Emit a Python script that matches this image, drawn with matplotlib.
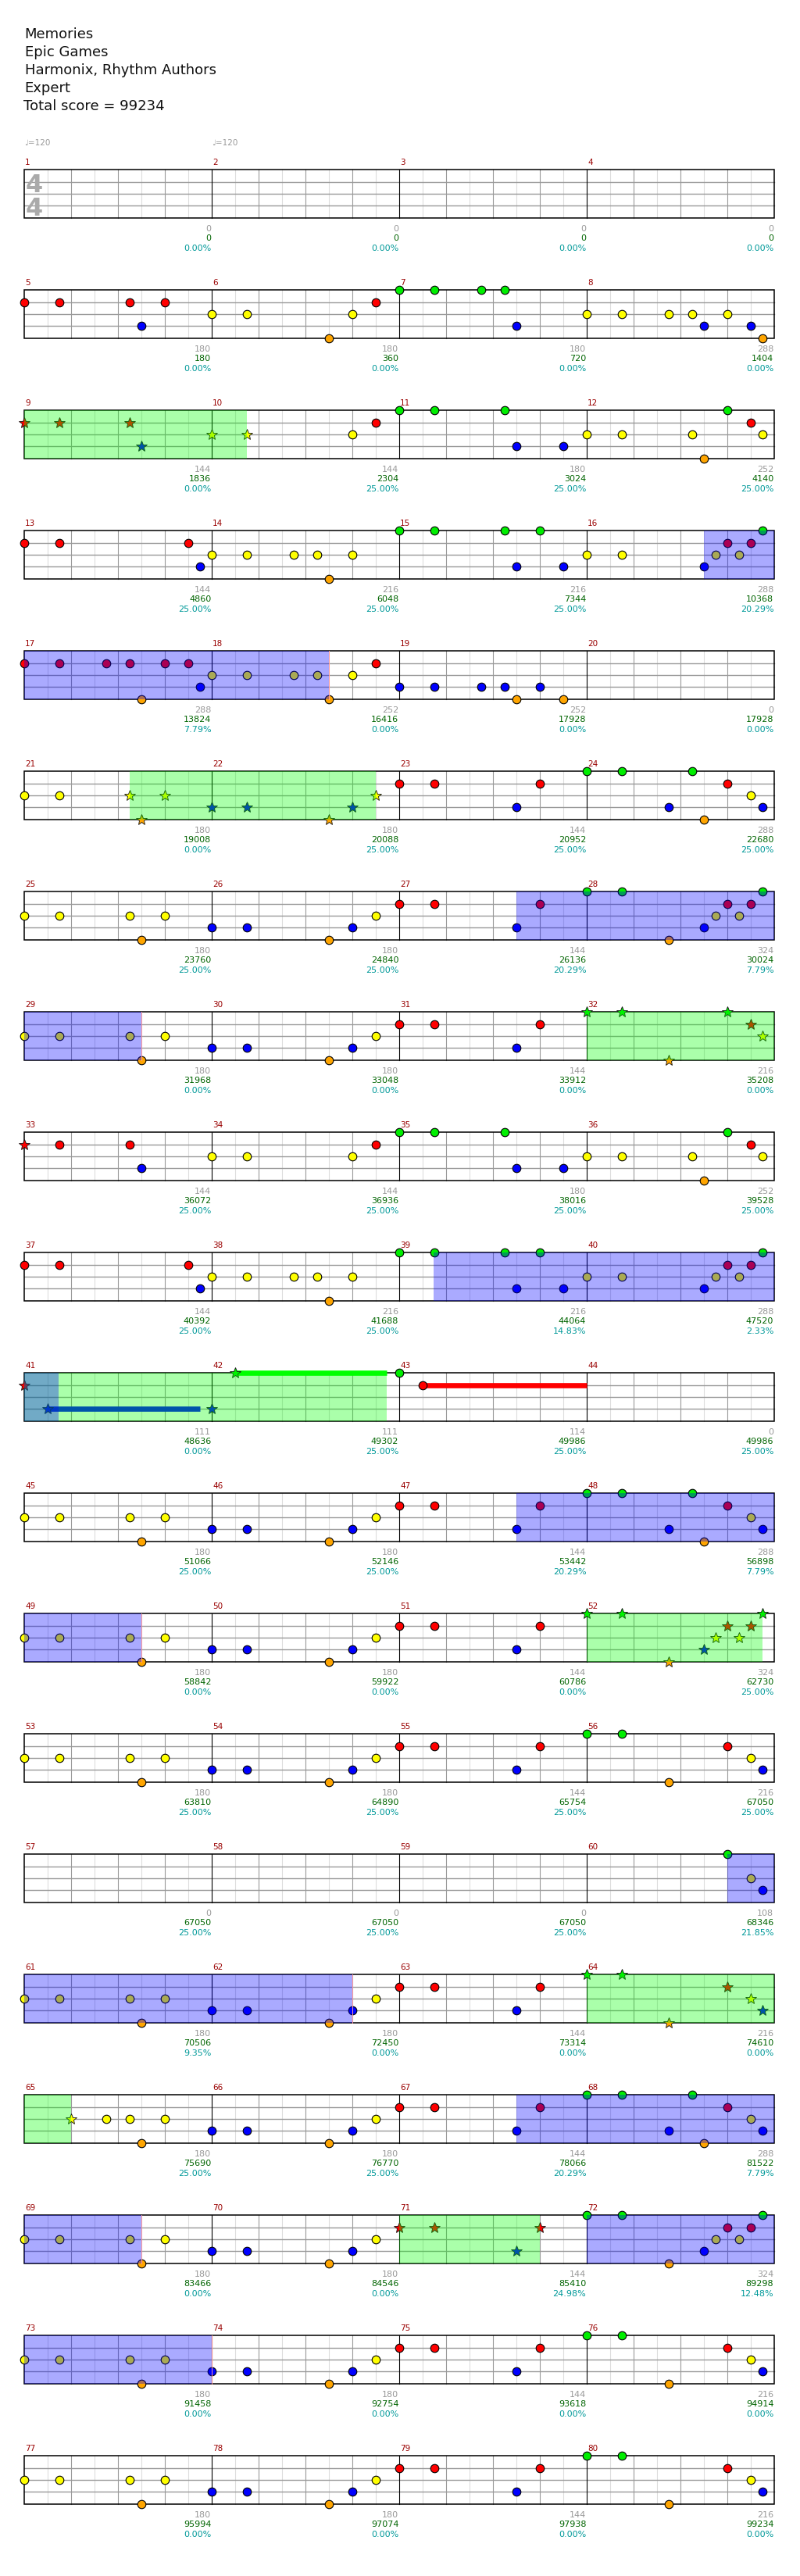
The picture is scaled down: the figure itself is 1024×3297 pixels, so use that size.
import matplotlib
matplotlib.use("Agg")
import matplotlib.pyplot as plt
from matplotlib.patches import Rectangle

# song info
header = ["Memories", "Epic Games", "Harmonix, Rhythm Authors", "Expert", "Total score = 99234"]
tempo_marks = [(1, "\u2669=120"), (2, "\u2669=120")]

# notes per measure: lane letter + position in 16ths, '*' = star power note
notes = [
    (5, "R0 R3 R9 B10 R12"), (6, "Y0 Y3 O10 Y12 R14"), (7, "G0 G3 G7 G9 B10"),
    (8, "Y0 Y3 Y7 Y9 B10 Y12 B14 O15"),
    (9, "R0* R3* R9* B10*"), (10, "Y0* Y3* Y12 R14"), (11, "G0 G3 G9 B10 B14"),
    (12, "Y0 Y3 Y9 O10 G12 R14 Y15"),
    (13, "R0 R3 R14 B15"), (14, "Y0 Y3 Y7 Y9 O10 Y12"), (15, "G0 G3 G9 B10 G12 B14"),
    (16, "Y0 Y3 B10 Y11 R12 Y13 R14 G15"),
    (17, "R0 R3 R7 R9 O10 R12 R14 B15"), (18, "Y0 Y3 Y7 Y9 O10 Y12 R14"),
    (19, "B0 B3 B7 B9 O10 B12 O14"),
    (21, "Y0 Y3 Y9* O10* Y12*"), (22, "B0* B3* O10* B12* Y14*"), (23, "R0 R3 B10 R12"),
    (24, "G0 G3 B7 G9 O10 R12 Y14 B15"),
    (25, "Y0 Y3 Y9 O10 Y12"), (26, "B0 B3 O10 B12 Y14"), (27, "R0 R3 B10 R12"),
    (28, "G0 G3 O7 B10 Y11 R12 Y13 R14 G15"),
    (29, "Y0 Y3 Y9 O10 Y12"), (30, "B0 B3 O10 B12 Y14"), (31, "R0 R3 B10 R12"),
    (32, "G0* G3* O7* G12* R14* Y15*"),
    (33, "R0* R3 R9 B10"), (34, "Y0 Y3 Y12 R14"), (35, "G0 G3 G9 B10 B14"),
    (36, "Y0 Y3 Y9 O10 G12 R14 Y15"),
    (37, "R0 R3 R14 B15"), (38, "Y0 Y3 Y7 Y9 O10 Y12"), (39, "G0 G3 G9 B10 G12 B14"),
    (40, "Y0 Y3 B10 Y11 R12 Y13 R14 G15"),
    (41, "R0* B2*"), (42, "B0* G2*"), (43, "G0 R2"),
    (45, "Y0 Y3 Y9 O10 Y12"), (46, "B0 B3 O10 B12 Y14"), (47, "R0 R3 B10 R12"),
    (48, "G0 G3 B7 G9 O10 R12 Y14 B15"),
    (49, "Y0 Y3 Y9 O10 Y12"), (50, "B0 B3 O10 B12 Y14"), (51, "R0 R3 B10 R12"),
    (52, "G0* G3* O7* B10* Y11* R12* Y13* R14* G15*"),
    (53, "Y0 Y3 Y9 O10 Y12"), (54, "B0 B3 O10 B12 Y14"), (55, "R0 R3 B10 R12"),
    (56, "G0 G3 O7 R12 Y14 B15"),
    (60, "G12 Y14 B15"),
    (61, "Y0 Y3 Y9 O10 Y12"), (62, "B0 B3 O10 B12 Y14"), (63, "R0 R3 B10 R12"),
    (64, "G0* G3* O7* R12* Y14* B15*"),
    (65, "Y4* Y7 Y9 O10 Y12"), (66, "B0 B3 O10 B12 Y14"), (67, "R0 R3 B10 R12"),
    (68, "G0 G3 B7 G9 O10 R12 Y14 B15"),
    (69, "Y0 Y3 Y9 O10 Y12"), (70, "B0 B3 O10 B12 Y14"), (71, "R0* R3* B10* R12*"),
    (72, "G0 G3 O7 B10 Y11 R12 Y13 R14 G15"),
    (73, "Y0 Y3 Y9 O10 Y12"), (74, "B0 B3 O10 B12 Y14"), (75, "R0 R3 B10 R12"),
    (76, "G0 G3 O7 R12 Y14 B15"),
    (77, "Y0 Y3 Y9 O10 Y12"), (78, "B0 B3 O10 B12 Y14"), (79, "R0 R3 B10 R12"),
    (80, "G0 G3 O7 R12 Y14 B15"),
]

# sustains: (measure, pos, lane, end measure, end pos)
sustains = [(41, 2, "B", 41, 15), (42, 2, "G", 42, 14.9), (43, 2, "R", 44, 0)]

# star power phrases (green) and activations (blue): (m, pos) -> (m, pos)
sp_phrases = [((9, 0), (10, 3)), ((21, 9), (22, 14)), ((32, 0), (32, 16)),
              ((41, 0), (42, 14.9)), ((52, 0), (52, 15)), ((64, 0), (65, 4)),
              ((71, 0), (71, 12))]
sp_active = [((16, 9.95), (18, 10)), ((27, 10), (29, 10)), ((39, 2.9), (41, 2.9)),
             ((47, 10), (49, 10)), ((60, 12), (62, 12)), ((67, 10), (69, 10)),
             ((72, 0), (74, 0))]

base_score = [0, 0, 0, 0, 180, 180, 180, 288, 144, 144, 180, 252, 144, 216, 216, 288,
              288, 252, 252, 0, 180, 180, 144, 288, 180, 180, 144, 324, 180, 180, 144, 216,
              144, 144, 180, 252, 144, 216, 216, 288, 111, 111, 114, 0, 180, 180, 144, 288,
              180, 180, 144, 324, 180, 180, 144, 216, 0, 0, 0, 108, 180, 180, 144, 216,
              180, 180, 144, 288, 180, 180, 144, 324, 180, 180, 144, 216, 180, 180, 144, 216]
total_score = [0, 0, 0, 0, 180, 360, 720, 1404, 1836, 2304, 3024, 4140,
               4860, 6048, 7344, 10368, 13824, 16416, 17928, 17928, 19008, 20088, 20952, 22680,
               23760, 24840, 26136, 30024, 31968, 33048, 33912, 35208, 36072, 36936, 38016, 39528,
               40392, 41688, 44064, 47520, 48636, 49302, 49986, 49986, 51066, 52146, 53442, 56898,
               58842, 59922, 60786, 62730, 63810, 64890, 65754, 67050, 67050, 67050, 67050, 68346,
               70506, 72450, 73314, 74610, 75690, 76770, 78066, 81522, 83466, 84546, 85410, 89298,
               91458, 92754, 93618, 94914, 95994, 97074, 97938, 99234]
sp_meter = [0, 0, 0, 0, 0, 0, 0, 0, 0, 25, 25, 25, 25, 25, 25, 20.29,
            7.79, 0, 0, 0, 0, 25, 25, 25, 25, 25, 20.29, 7.79, 0, 0, 0, 0,
            25, 25, 25, 25, 25, 25, 14.83, 2.33, 0, 25, 25, 25, 25, 25, 20.29, 7.79,
            0, 0, 0, 25, 25, 25, 25, 25, 25, 25, 25, 21.85, 9.35, 0, 0, 0,
            25, 25, 20.29, 7.79, 0, 0, 24.98, 12.48, 0, 0, 0, 0, 0, 0, 0, 0]

lane_idx = {"G": 0, "R": 1, "Y": 2, "B": 3, "O": 4}
lane_col = {"G": "#00ee00", "R": "#ff0000", "Y": "#ffff00", "B": "#0000ff", "O": "#ffa500"}

W, H = 1024, 3298
X0, MW, Y0, ROW_H, LANE = 31.3, 240.0, 218.3, 154.0, 15.33
N_MEAS = 80
N_ROWS = N_MEAS // 4


def gpos(m, p):
    return (m - 1) * 16 + p


def xy(m, p, lane):
    g = gpos(m, p)
    r = int(g // 64)
    if g == r * 64 and g > 0 and p != 0:
        r -= 1
    return X0 + (g - r * 64) * MW / 16, Y0 + r * ROW_H + lane_idx[lane] * LANE


fig = plt.figure(figsize=(W / 100, H / 100), dpi=100)
ax = fig.add_axes([0, 0, 1, 1])
ax.set_xlim(0, W)
ax.set_ylim(H, 0)
ax.axis("off")

for i, line in enumerate(header):
    ax.text(30.5 if i == 4 else 31.5, 49 + 23 * i, line, fontsize=13, color="#111111",
            va="baseline", ha="left")

for m, t in tempo_marks:
    ax.text(X0 + (m - 1) * MW, 186, t, fontsize=7.5, color="#999999", va="baseline")

# staff grid
for r in range(N_ROWS):
    top = Y0 + r * ROW_H
    bot = top + 4 * LANE
    for k in range(1, 32):
        x = X0 + k * MW / 8
        if k % 8 == 0:
            ax.plot([x, x], [top, bot], color="black", lw=0.8, zorder=1.3)
        elif k % 2 == 0:
            ax.plot([x, x], [top, bot], color="#999999", lw=0.8, zorder=1.1)
        else:
            ax.plot([x, x], [top, bot], color="#dddddd", lw=0.8, zorder=1.0)
    for i in range(1, 4):
        ax.plot([X0, X0 + 4 * MW], [top + i * LANE] * 2, color="#999999", lw=1.0, zorder=1.2)
    ax.add_patch(Rectangle((X0, top), 4 * MW, 4 * LANE, fill=False, ec="black",
                           lw=1.1, zorder=1.4))
    for c in range(4):
        m = r * 4 + c
        xs = X0 + c * MW
        ax.text(xs + 1, top - 7, str(m + 1), fontsize=7.5, color="#990000", va="baseline")
        xe = xs + MW - 1
        ax.text(xe, bot + 16, str(base_score[m]), fontsize=8, color="#999999",
                ha="right", va="baseline")
        ax.text(xe, bot + 28.7, str(total_score[m]), fontsize=8, color="#006400",
                ha="right", va="baseline")
        ax.text(xe, bot + 41.5, "%.2f%%" % sp_meter[m], fontsize=8, color="#009999",
                ha="right", va="baseline")

# time signature
ax.text(44, 246.5, "4", fontsize=23, fontweight="bold", color="#aaaaaa", ha="center",
        va="baseline", zorder=1.5)
ax.text(44, 276.5, "4", fontsize=23, fontweight="bold", color="#aaaaaa", ha="center",
        va="baseline", zorder=1.5)

# sustains
for m, p, ln, me, pe in sustains:
    x1, y1 = xy(m, p, ln)
    x2, _ = xy(me, pe, ln)
    ax.plot([x1, x2], [y1, y1], color="#00ff00" if ln == "G" else lane_col[ln],
            lw=4.8, solid_capstyle="butt", zorder=2)

# notes
for m, toks in notes:
    for tok in toks.split():
        star = tok.endswith("*")
        ln = tok[0]
        p = float(tok[1:].rstrip("*"))
        x, y = xy(m, p, ln)
        if star:
            ax.plot(x, y, marker="*", ms=10.5, mfc=lane_col[ln], mec="#111111",
                    mew=0.6, ls="none", zorder=3)
        else:
            ax.plot(x, y, marker="o", ms=7.6, mfc=lane_col[ln], mec="black",
                    mew=0.8, ls="none", zorder=3)


def inside_phrase(g):
    return any(gpos(*s) < g < gpos(*e) for s, e in sp_phrases)


def shade(start, end, color, z, edge=None):
    g0, g1 = gpos(*start), gpos(*end)
    for r in range(N_ROWS):
        a, b = max(g0, r * 64), min(g1, (r + 1) * 64)
        if b <= a:
            continue
        top = Y0 + r * ROW_H
        ax.add_patch(Rectangle((X0 + (a - r * 64) * MW / 16, top), (b - a) * MW / 16,
                               4 * LANE, fc=color, alpha=1 / 3, lw=0, zorder=z))
    if edge and not inside_phrase(g1):
        r = int(g1 // 64)
        x = X0 + (g1 - r * 64) * MW / 16
        top = Y0 + r * ROW_H
        ax.plot([x, x], [top, top + 4 * LANE], color=edge, lw=0.7, zorder=z + 0.1)


for s, e in sp_phrases:
    shade(s, e, "#00ff00", 4)
for s, e in sp_active:
    shade(s, e, "#0000ff", 5, edge="#ff9999")

fig.savefig("out.png", dpi=100, facecolor="white")
